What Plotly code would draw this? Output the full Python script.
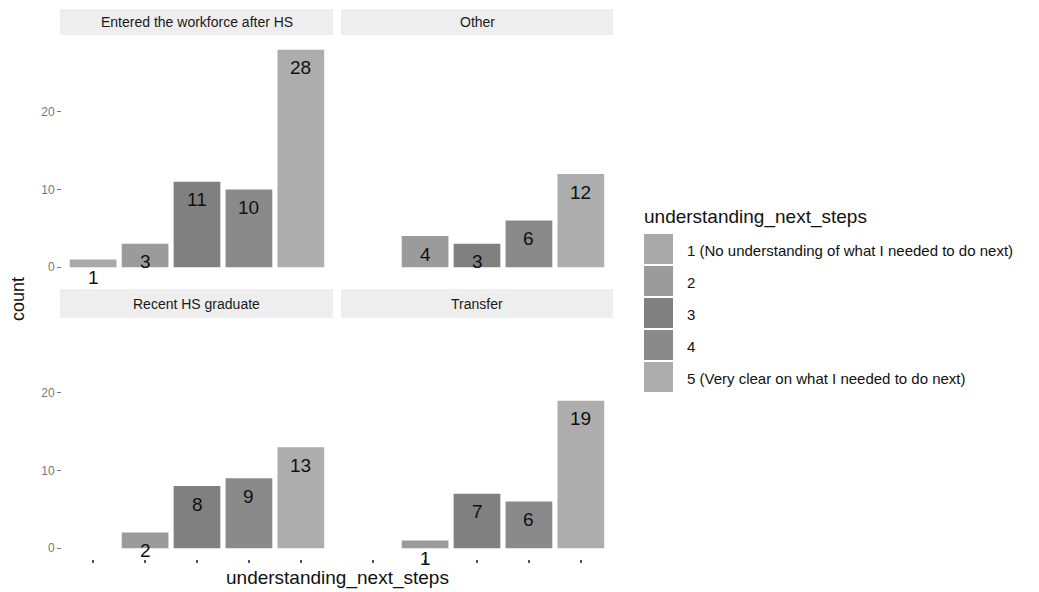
import plotly.graph_objects as go

# Survey counts of "understanding_next_steps" by student type
levels = [1, 2, 3, 4, 5]
facet_names = ["Entered the workforce after HS", "Other", "Recent HS graduate", "Transfer"]
entered_counts = [1, 3, 11, 10, 28]
other_counts = [None, 4, 3, 6, 12]
recent_counts = [None, 2, 8, 9, 13]
transfer_counts = [None, 1, 7, 6, 19]
legend_labels = [
    "1 (No understanding of what I needed to do next)",
    "2",
    "3",
    "4",
    "5 (Very clear on what I needed to do next)",
]
y_ticks = [0, 10, 20]

level_colors = ["#a9a9a9", "#9b9b9b", "#808080", "#8a8a8a", "#adadad"]

W, H = 1039, 592
FONT = "Liberation Sans, Arial, sans-serif"


def px_x(p):
    return p / W


def px_y(p):
    return 1 - p / H


# panel boxes in pixels: (left, right, top, bottom)
panels = [
    (62, 332, 39, 278),
    (342, 612, 39, 278),
    (62, 332, 320, 559),
    (342, 612, 320, 559),
]
strips = [
    (60, 333, 9, 35),
    (341, 613, 9, 35),
    (60, 333, 289, 318),
    (341, 613, 289, 318),
]
series = [entered_counts, other_counts, recent_counts, transfer_counts]

fig = go.Figure()
layout = dict(
    width=W,
    height=H,
    margin=dict(l=0, r=0, t=0, b=0),
    plot_bgcolor="white",
    paper_bgcolor="white",
    showlegend=False,
    font=dict(family=FONT, color="#222"),
)

annotations = []
shapes = []


def paper_text(x, y, text, size, color="#111", xanchor="center", angle=0):
    annotations.append(dict(
        x=px_x(x), y=px_y(y), xref="paper", yref="paper",
        xanchor=xanchor, yanchor="middle", text=text, showarrow=False,
        textangle=angle, font=dict(size=size, color=color, family=FONT),
    ))


for i, (counts, name, box, sbox) in enumerate(zip(series, facet_names, panels, strips)):
    n = i + 1
    xa = "x" if n == 1 else f"x{n}"
    ya = "y" if n == 1 else f"y{n}"
    xs = [lv for lv, c in zip(levels, counts) if c is not None]
    ys = [c for c in counts if c is not None]
    cols = [level_colors[levels.index(lv)] for lv in xs]
    fig.add_trace(go.Bar(
        x=xs, y=ys, width=0.9, marker=dict(color=cols, line=dict(width=0)),
        xaxis=xa, yaxis=ya, hoverinfo="x+y",
    ))
    for lv, c in zip(xs, ys):
        annotations.append(dict(
            x=lv, y=c, xref=xa, yref=ya, text=str(c), showarrow=False,
            xanchor="center", yanchor="middle",
            yshift=-18, font=dict(size=19, color="#111", family=FONT),
        ))

    l, r, t, b = box
    bottom_row = i >= 2
    left_col = i % 2 == 0
    layout["xaxis" if n == 1 else f"xaxis{n}"] = dict(
        domain=[px_x(l), px_x(r)], anchor=ya, range=[0.4, 5.6],
        tickvals=levels,
        showgrid=False, zeroline=False, showline=False,
        showticklabels=False,
        ticks="outside" if bottom_row else "", ticklen=3, tickwidth=1.5,
        tickcolor="#555",
    )
    layout["yaxis" if n == 1 else f"yaxis{n}"] = dict(
        domain=[px_y(b), px_y(t)], anchor=xa, range=[-1.4, 29.4],
        tickvals=y_ticks, showgrid=False, zeroline=False, showline=False,
        showticklabels=left_col,
        ticks="outside" if left_col else "", ticklen=4, tickwidth=1.2,
        tickcolor="#777", tickfont=dict(size=12, color="#777", family=FONT),
    )

    sl, sr, st, sb = sbox
    shapes.append(dict(
        type="rect", xref="paper", yref="paper",
        x0=px_x(sl), x1=px_x(sr), y0=px_y(sb), y1=px_y(st),
        fillcolor="#eeeeee", line=dict(width=0), layer="below",
    ))
    paper_text((sl + sr) / 2, (st + sb) / 2, name, 14, color="#1a1a1a")

# axis titles
paper_text(337, 578, "understanding_next_steps", 19)
paper_text(18, 299, "count", 18, angle=-90)

# legend
paper_text(642, 217, "understanding_next_steps", 19, xanchor="left")
key_top = 234
key_step = 32
for k, (lab, col) in enumerate(zip(legend_labels, level_colors)):
    y0 = key_top + k * key_step
    shapes.append(dict(
        type="rect", xref="paper", yref="paper",
        x0=px_x(644), x1=px_x(673), y0=px_y(y0 + 30), y1=px_y(y0),
        fillcolor=col, line=dict(width=0),
    ))
    paper_text(685, y0 + 16, lab, 15, xanchor="left")

layout["annotations"] = annotations
layout["shapes"] = shapes
fig.update_layout(**layout)
fig.write_html("out.html")
